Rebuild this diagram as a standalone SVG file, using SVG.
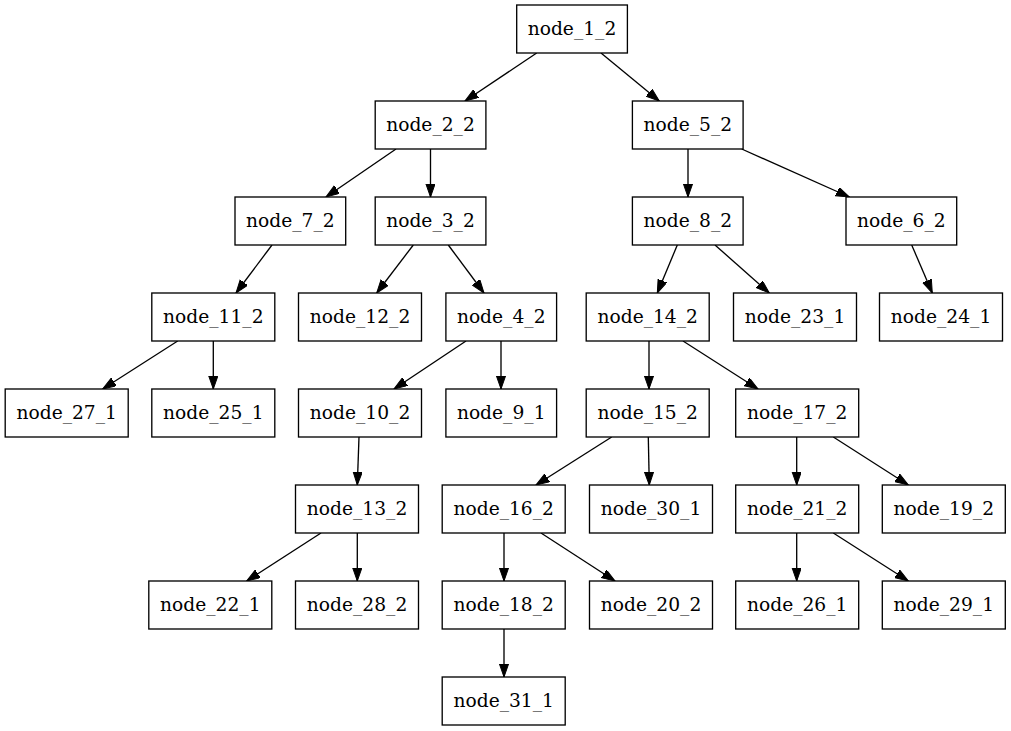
<svg xmlns="http://www.w3.org/2000/svg" width="1011" height="731" viewBox="0 0 1011 731">
<style>
.n rect{fill:#fff;stroke:#000;stroke-width:1.33}
.n text{font-family:"DejaVu Serif","Liberation Serif",serif;font-size:18.67px;text-anchor:middle;fill:#000}
.e line{stroke:#000;stroke-width:1.33;marker-end:url(#ah)}
</style>
<defs>
<marker id="ah" markerUnits="userSpaceOnUse" markerWidth="14" markerHeight="10" refX="13.3" refY="4.67" orient="auto">
<path d="M0,0 L13.3,4.67 L0,9.33 Z" fill="#000" stroke="#000" stroke-width="1"/>
</marker>
</defs>
<rect width="1011" height="731" fill="#fff"/>
<g id="edges" class="e">
<line x1="536.7" y1="53" x2="465" y2="101"/>
<line x1="601" y1="53" x2="659.3" y2="101"/>
<line x1="396" y1="149" x2="326" y2="197"/>
<line x1="430.5" y1="149" x2="430.5" y2="197"/>
<line x1="688" y1="149" x2="688" y2="197"/>
<line x1="741.7" y1="149" x2="849.3" y2="197"/>
<line x1="272" y1="245" x2="236" y2="293"/>
<line x1="413.3" y1="245" x2="376.7" y2="293"/>
<line x1="448.3" y1="245" x2="484" y2="293"/>
<line x1="677.3" y1="245" x2="657.3" y2="293"/>
<line x1="715" y1="245" x2="769.3" y2="293"/>
<line x1="911.7" y1="245" x2="932.3" y2="293"/>
<line x1="177.7" y1="341" x2="102.7" y2="389"/>
<line x1="213.3" y1="341" x2="213.3" y2="389"/>
<line x1="466" y1="341" x2="394" y2="389"/>
<line x1="501" y1="341" x2="501" y2="389"/>
<line x1="649" y1="341" x2="649" y2="389"/>
<line x1="683" y1="341" x2="758" y2="389"/>
<line x1="359" y1="437" x2="357.3" y2="485"/>
<line x1="611.7" y1="437" x2="536" y2="485"/>
<line x1="648.3" y1="437" x2="649.3" y2="485"/>
<line x1="796.7" y1="437" x2="796.7" y2="485"/>
<line x1="833.3" y1="437" x2="908.3" y2="485"/>
<line x1="321" y1="533" x2="246.7" y2="581"/>
<line x1="357.3" y1="533" x2="357.3" y2="581"/>
<line x1="504" y1="533" x2="504" y2="581"/>
<line x1="541" y1="533" x2="615" y2="581"/>
<line x1="796.7" y1="533" x2="796.7" y2="581"/>
<line x1="833.3" y1="533" x2="908.3" y2="581"/>
<line x1="504" y1="629" x2="504" y2="677"/>
</g>
<g id="node_1_2" class="n"><rect x="516.7" y="5" width="110.7" height="48"/><text x="572" y="35.3">node_1_2</text></g>
<g id="node_2_2" class="n"><rect x="375.2" y="101" width="110.7" height="48"/><text x="430.5" y="131.3">node_2_2</text></g>
<g id="node_5_2" class="n"><rect x="632.4" y="101" width="110.7" height="48"/><text x="687.8" y="131.3">node_5_2</text></g>
<g id="node_7_2" class="n"><rect x="235" y="197" width="110.7" height="48"/><text x="290.3" y="227.3">node_7_2</text></g>
<g id="node_3_2" class="n"><rect x="375.2" y="197" width="110.7" height="48"/><text x="430.5" y="227.3">node_3_2</text></g>
<g id="node_8_2" class="n"><rect x="632.4" y="197" width="110.7" height="48"/><text x="687.8" y="227.3">node_8_2</text></g>
<g id="node_6_2" class="n"><rect x="846" y="197" width="110.7" height="48"/><text x="901.3" y="227.3">node_6_2</text></g>
<g id="node_11_2" class="n"><rect x="151.8" y="293" width="123" height="48"/><text x="213.3" y="323.3">node_11_2</text></g>
<g id="node_12_2" class="n"><rect x="298.5" y="293" width="123" height="48"/><text x="360" y="323.3">node_12_2</text></g>
<g id="node_4_2" class="n"><rect x="445.9" y="293" width="110.7" height="48"/><text x="501.2" y="323.3">node_4_2</text></g>
<g id="node_14_2" class="n"><rect x="586.2" y="293" width="123" height="48"/><text x="647.7" y="323.3">node_14_2</text></g>
<g id="node_23_1" class="n"><rect x="733.5" y="293" width="123" height="48"/><text x="795" y="323.3">node_23_1</text></g>
<g id="node_24_1" class="n"><rect x="879.5" y="293" width="123" height="48"/><text x="941" y="323.3">node_24_1</text></g>
<g id="node_27_1" class="n"><rect x="5.2" y="389" width="123" height="48"/><text x="66.7" y="419.3">node_27_1</text></g>
<g id="node_25_1" class="n"><rect x="151.8" y="389" width="123" height="48"/><text x="213.3" y="419.3">node_25_1</text></g>
<g id="node_10_2" class="n"><rect x="298.5" y="389" width="123" height="48"/><text x="360" y="419.3">node_10_2</text></g>
<g id="node_9_1" class="n"><rect x="445.9" y="389" width="110.7" height="48"/><text x="501.2" y="419.3">node_9_1</text></g>
<g id="node_15_2" class="n"><rect x="586.2" y="389" width="123" height="48"/><text x="647.7" y="419.3">node_15_2</text></g>
<g id="node_17_2" class="n"><rect x="735.7" y="389" width="123" height="48"/><text x="797.2" y="419.3">node_17_2</text></g>
<g id="node_13_2" class="n"><rect x="295.5" y="485" width="123" height="48"/><text x="357" y="515.3">node_13_2</text></g>
<g id="node_16_2" class="n"><rect x="442.2" y="485" width="123" height="48"/><text x="503.7" y="515.3">node_16_2</text></g>
<g id="node_30_1" class="n"><rect x="589.5" y="485" width="123" height="48"/><text x="651" y="515.3">node_30_1</text></g>
<g id="node_21_2" class="n"><rect x="735.7" y="485" width="123" height="48"/><text x="797.2" y="515.3">node_21_2</text></g>
<g id="node_19_2" class="n"><rect x="882.3" y="485" width="123" height="48"/><text x="943.8" y="515.3">node_19_2</text></g>
<g id="node_22_1" class="n"><rect x="148.8" y="581" width="123" height="48"/><text x="210.3" y="611.3">node_22_1</text></g>
<g id="node_28_2" class="n"><rect x="295.5" y="581" width="123" height="48"/><text x="357" y="611.3">node_28_2</text></g>
<g id="node_18_2" class="n"><rect x="442.2" y="581" width="123" height="48"/><text x="503.7" y="611.3">node_18_2</text></g>
<g id="node_20_2" class="n"><rect x="589.5" y="581" width="123" height="48"/><text x="651" y="611.3">node_20_2</text></g>
<g id="node_26_1" class="n"><rect x="735.7" y="581" width="123" height="48"/><text x="797.2" y="611.3">node_26_1</text></g>
<g id="node_29_1" class="n"><rect x="882.3" y="581" width="123" height="48"/><text x="943.8" y="611.3">node_29_1</text></g>
<g id="node_31_1" class="n"><rect x="442.2" y="677" width="123" height="48"/><text x="503.7" y="707.3">node_31_1</text></g>
</svg>
